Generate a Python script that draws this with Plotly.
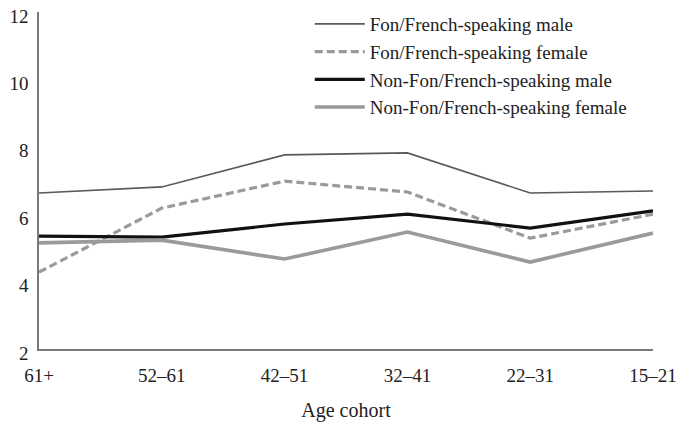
import plotly.graph_objects as go

cohorts = ["61+", "52–61", "42–51", "32–41", "22–31", "15–21"]
fon_male = [6.63, 6.81, 7.76, 7.82, 6.63, 6.69]
fon_female = [4.28, 6.18, 6.98, 6.66, 5.29, 6.0]
nonfon_male = [5.35, 5.32, 5.71, 6.0, 5.59, 6.1]
nonfon_female = [5.15, 5.23, 4.67, 5.47, 4.58, 5.44]
y_ticks = [2, 4, 6, 8, 10, 12]

FONT = "Liberation Serif"
x = list(range(len(cohorts)))

series = [
    ("Fon/French-speaking male", fon_male, dict(color="#5a5a5a", width=1.6)),
    ("Fon/French-speaking female", fon_female, dict(color="#9a9a9a", width=3.2, dash="8px,4px")),
    ("Non-Fon/French-speaking male", nonfon_male, dict(color="#111111", width=3.2)),
    ("Non-Fon/French-speaking female", nonfon_female, dict(color="#9a9a9a", width=3.6)),
]

fig = go.Figure()
for i, (name, vals, line) in enumerate(series):
    fig.add_trace(go.Scatter(x=x, y=vals, mode="lines", name=name, line=line,
                             legendgroup=f"g{i}"))

fig.update_layout(
    width=678, height=422,
    margin=dict(l=39, r=25, t=12, b=73, autoexpand=False),
    paper_bgcolor="white", plot_bgcolor="white",
    font=dict(family=FONT, color="#222222", size=19),
    showlegend=True,
    legend=dict(
        x=0.441, y=0.988, xanchor="left", yanchor="top", yref="container",
        font=dict(family=FONT, size=19, color="#222222"),
        bgcolor="rgba(0,0,0,0)",
        itemwidth=50,
        traceorder="grouped",
        tracegroupgap=0,
    ),
    xaxis=dict(
        tickmode="array", tickvals=x, ticktext=cohorts,
        range=[0, 5], showgrid=False, zeroline=False,
        showline=True, linecolor="#777777", linewidth=1.5,
        ticks="", ticklabelstandoff=8, automargin=False,
        ticklabeloverflow="allow",
        tickfont=dict(family=FONT, size=19, color="#222222"),
        title=dict(text="Age cohort", font=dict(family=FONT, size=20, color="#222222"), standoff=24),
    ),
    yaxis=dict(
        range=[2, 12], tickvals=y_ticks, showgrid=False, zeroline=False,
        showline=True, linecolor="#777777", linewidth=1.5,
        ticks="", ticklabelstandoff=5, ticklabelshift=4, automargin=False,
        ticklabeloverflow="allow",
        tickfont=dict(family=FONT, size=19, color="#222222"),
    ),
)

fig.write_html(
    "out.html",
    config={"displayModeBar": False},
    post_script="document.body.style.margin='0';document.body.style.padding='0';document.body.style.overflow='hidden';",
)
